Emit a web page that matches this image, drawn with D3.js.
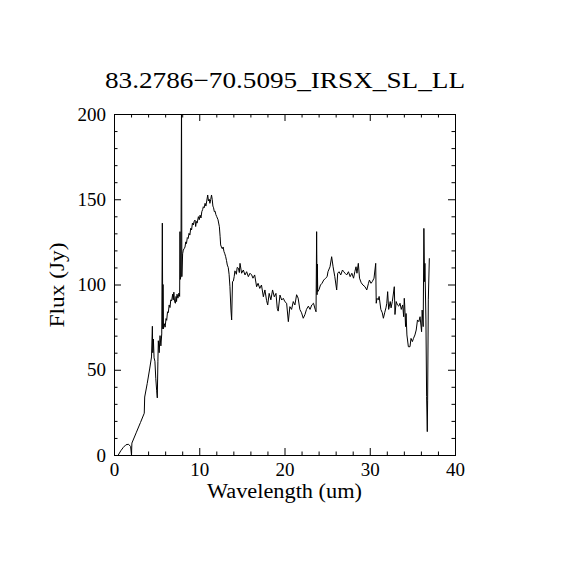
<!DOCTYPE html>
<html>
<head>
<meta charset="utf-8">
<script src="https://cdn.jsdelivr.net/npm/d3@7"></script>
<style>
  html, body { margin: 0; padding: 0; background: #fff; }
  text { font-family: 'Liberation Serif', 'Times New Roman', serif; fill: #000; }
</style>
</head>
<body>
<svg id="svg" width="570" height="570"></svg>
<script>
// Spectrum (wavelength in um, flux in Jy)
const wavelength = [
  0.5, 0.8, 1.1, 1.4, 1.7, 1.95, 2.05, 2.1, 2.6, 3.1, 3.55, 3.6, 3.9, 4.2, 4.4, 4.5, 4.55, 4.62, 4.7, 4.8,
  4.9, 5.0, 5.08, 5.15, 5.2, 5.3, 5.4, 5.5, 5.6, 5.67, 5.72, 5.75, 5.8, 5.9, 6.0, 6.1, 6.18, 6.28, 6.37, 6.47,
  6.57, 6.66, 6.76, 6.88, 6.95, 7.02, 7.1, 7.2, 7.28, 7.34, 7.39, 7.5, 7.62, 7.7, 7.74, 7.78, 7.85, 7.92, 7.96, 8.05,
  8.13, 8.23, 8.33, 8.42, 8.5, 8.6, 8.7, 8.8, 8.9, 9.0, 9.1, 9.2, 9.3, 9.4, 9.5, 9.58, 9.66, 9.75, 9.9, 10.0,
  10.1, 10.2, 10.3, 10.4, 10.48, 10.58, 10.68, 10.78, 10.88, 10.99, 11.08, 11.17, 11.25, 11.35, 11.44, 11.52, 11.6, 11.68, 11.77, 11.86,
  11.95, 12.05, 12.2, 12.36, 12.45, 12.51, 12.6, 12.7, 12.8, 12.9, 13.0, 13.1, 13.2, 13.29, 13.4, 13.5, 13.6, 13.72, 13.8, 13.9,
  14.0, 14.1, 14.18, 14.25, 14.35, 14.45, 14.6, 14.7, 14.78, 14.97, 15.17, 15.37, 15.56, 15.76, 15.95, 16.15, 16.3, 16.5, 16.73, 16.9,
  17.1, 17.3, 17.52, 17.7, 17.9, 18.03, 18.2, 18.4, 18.6, 18.8, 19.0, 19.15, 19.26, 19.47, 19.67, 19.86, 20.05, 20.25, 20.45, 20.63,
  20.83, 21.03, 21.22, 21.42, 21.6, 21.8, 22.0, 22.2, 22.4, 22.58, 22.8, 23.0, 23.2, 23.4, 23.6, 23.7, 23.77, 23.82, 23.85, 23.9,
  24.05, 24.22, 24.4, 24.6, 24.8, 25.0, 25.1, 25.34, 25.53, 25.7, 25.9, 26.12, 26.24, 26.4, 26.6, 26.8, 26.95, 27.1, 27.3, 27.5,
  27.7, 27.9, 28.1, 28.25, 28.39, 28.5, 28.66, 28.8, 29.0, 29.2, 29.44, 29.65, 29.85, 29.96, 30.15, 30.3, 30.5, 30.7, 30.76, 30.85,
  31.0, 31.1, 31.3, 31.47, 31.6, 31.75, 31.9, 32.0, 32.1, 32.22, 32.4, 32.5, 32.65, 32.88, 32.96, 33.1, 33.25, 33.4, 33.55, 33.7,
  33.86, 33.98, 34.05, 34.1, 34.2, 34.26, 34.36, 34.53, 34.72, 34.84, 35.0, 35.13, 35.3, 35.45, 35.6, 35.76, 35.9, 36.08, 36.15, 36.27,
  36.35, 36.43, 36.47, 36.59, 36.67, 36.75, 36.79, 36.87, 36.99,
];
const flux = [
  0, 2.5, 4.5, 6.0, 6.3, 5.0, 0, 7, 13, 19, 24.5, 34, 42, 51, 57.5, 75.5, 60, 68, 57, 55,
  45, 38, 33.5, 55, 67, 60, 70, 64, 71, 136, 74, 100, 74, 77, 75, 80, 79, 84, 83.5, 88,
  86.5, 91, 90.4, 94.3, 91, 95.5, 90, 89, 93, 90, 94.3, 92, 95, 93, 131, 103, 105, 210, 104.6, 118,
  120.2, 121, 122, 125, 124, 127.5, 127, 130, 129, 133, 132, 136, 134.9, 137, 137.8, 134, 137, 136, 139.8, 138,
  140.7, 139, 142.7, 144, 145.6, 145, 147.6, 146, 149, 152.5, 149, 150, 147.6, 150, 152.5, 150, 146, 145, 142.7, 143,
  141, 139.8, 138, 133.9, 128, 123.2, 122, 121, 122, 119.3, 118, 116.3, 114, 111.4, 110, 106, 98.7, 85, 79.2, 101.7,
  102, 104.6, 108, 107.5, 106, 110, 109.5, 107, 112.4, 106.6, 108.5, 105.6, 107.5, 104.6, 106.6, 105.6, 103.7, 105.6, 98.7, 100.7,
  97.7, 99.7, 92.8, 96.8, 90.5, 88, 94.8, 91, 96.8, 92.8, 94.8, 86, 84.4, 93.8, 90.9, 91.9, 89.9, 89, 78.2, 87,
  85.4, 90, 88, 94, 92, 85.4, 83.4, 80.2, 82.4, 85.4, 87.3, 85.4, 88, 89, 85.4, 84, 131, 94, 112, 95.8,
  97, 99.7, 100.7, 102.6, 103.6, 104.6, 107.5, 110.4, 116.3, 110.4, 104.6, 96.8, 106.6, 107.5, 105.6, 108.5, 107.5, 106.6, 105.6, 107.5,
  104.6, 106.6, 103.7, 107.5, 110.4, 106.6, 112.4, 103.7, 101, 99.7, 98.7, 96.8, 100.7, 102.6, 100.7, 101.7, 103.7, 112.4, 89, 91.9,
  91, 93, 85.4, 83.4, 80.2, 83.4, 86.3, 89, 95.8, 85.4, 90, 86.3, 90, 98.7, 82.4, 90, 88, 87.3, 89, 85.4,
  88, 81.1, 91.9, 88, 75.3, 83, 70.4, 63.5, 63.5, 68.4, 66.5, 68.4, 70.4, 73.3, 79.2, 78.2, 81.1, 72.3, 85, 75.3,
  132.9, 101.7, 112.4, 79.2, 34.2, 13.7, 32.2, 91, 115.4,
];

const xTicks = [0, 10, 20, 30, 40];
const yTicks = [0, 50, 100, 150, 200];
const title = '83.2786\u221270.5095_IRSX_SL_LL';
const xTitle = 'Wavelength (um)';
const yTitle = 'Flux (Jy)';

const svg = d3.select('#svg');
const box = { left: 114, right: 455, top: 114, bottom: 455 };

const x = d3.scaleLinear().domain([0, 40]).range([box.left, box.right]);
const y = d3.scaleLinear().domain([0, 200]).range([box.bottom, box.top]);

svg.append('defs')
  .append('clipPath')
  .attr('id', 'box')
  .append('rect')
  .attr('x', box.left)
  .attr('y', box.top)
  .attr('width', box.right - box.left)
  .attr('height', box.bottom - box.top);

// Spectrum
const pts = wavelength.map((w, i) => [w, flux[i]]);
svg.append('path')
  .datum(pts)
  .attr('clip-path', 'url(#box)')
  .attr('fill', 'none')
  .attr('stroke', '#000')
  .attr('stroke-width', 1)
  .attr('d', d3.line().x((d) => x(d[0])).y((d) => y(d[1])));

// Frame, ticks inward on all four sides
const major = 7, minor = 3.5;
const axB = svg.append('g').attr('transform', `translate(0,${box.bottom})`)
  .call(d3.axisBottom(x).tickValues(xTicks).tickSize(-major).tickPadding(8).tickFormat(d3.format('d')));
svg.append('g').attr('transform', `translate(0,${box.top})`)
  .call(d3.axisTop(x).tickValues(xTicks).tickSize(-major).tickFormat(''));
svg.append('g').attr('transform', `translate(${box.left},0)`)
  .call(d3.axisLeft(y).tickValues(yTicks).tickSize(-major).tickPadding(8).tickFormat(d3.format('d')));
svg.append('g').attr('transform', `translate(${box.right},0)`)
  .call(d3.axisRight(y).tickValues(yTicks).tickSize(-major).tickFormat(''));

const xMinor = d3.range(0, 41, 2).filter((d) => d % 10 !== 0);
const yMinor = d3.range(0, 201, 10).filter((d) => d % 50 !== 0);
svg.append('g').attr('transform', `translate(0,${box.bottom})`)
  .call(d3.axisBottom(x).tickValues(xMinor).tickSize(-minor).tickFormat(''));
svg.append('g').attr('transform', `translate(0,${box.top})`)
  .call(d3.axisTop(x).tickValues(xMinor).tickSize(-minor).tickFormat(''));
svg.append('g').attr('transform', `translate(${box.left},0)`)
  .call(d3.axisLeft(y).tickValues(yMinor).tickSize(-minor).tickFormat(''));
svg.append('g').attr('transform', `translate(${box.right},0)`)
  .call(d3.axisRight(y).tickValues(yMinor).tickSize(-minor).tickFormat(''));

svg.selectAll('.domain').attr('stroke', '#000').attr('stroke-width', 1);
svg.selectAll('.tick line').attr('stroke', '#000').attr('stroke-width', 1);
svg.selectAll('.tick text')
  .attr('font-family', "'Liberation Serif', serif")
  .attr('font-size', 19)
  .attr('fill', '#000');
axB.selectAll('.tick text').attr('dy', '0.71em');

// Titles
svg.append('text')
  .attr('x', 285)
  .attr('y', 88)
  .attr('text-anchor', 'middle')
  .attr('font-size', 23)
  .attr('textLength', 360)
  .attr('lengthAdjust', 'spacingAndGlyphs')
  .text(title);

svg.append('text')
  .attr('x', 284.5)
  .attr('y', 498)
  .attr('text-anchor', 'middle')
  .attr('font-size', 20)
  .attr('textLength', 155)
  .attr('lengthAdjust', 'spacingAndGlyphs')
  .text(xTitle);

svg.append('text')
  .attr('transform', 'translate(64,285) rotate(-90)')
  .attr('text-anchor', 'middle')
  .attr('font-size', 20)
  .attr('textLength', 85)
  .attr('lengthAdjust', 'spacingAndGlyphs')
  .text(yTitle);
</script>
</body>
</html>
